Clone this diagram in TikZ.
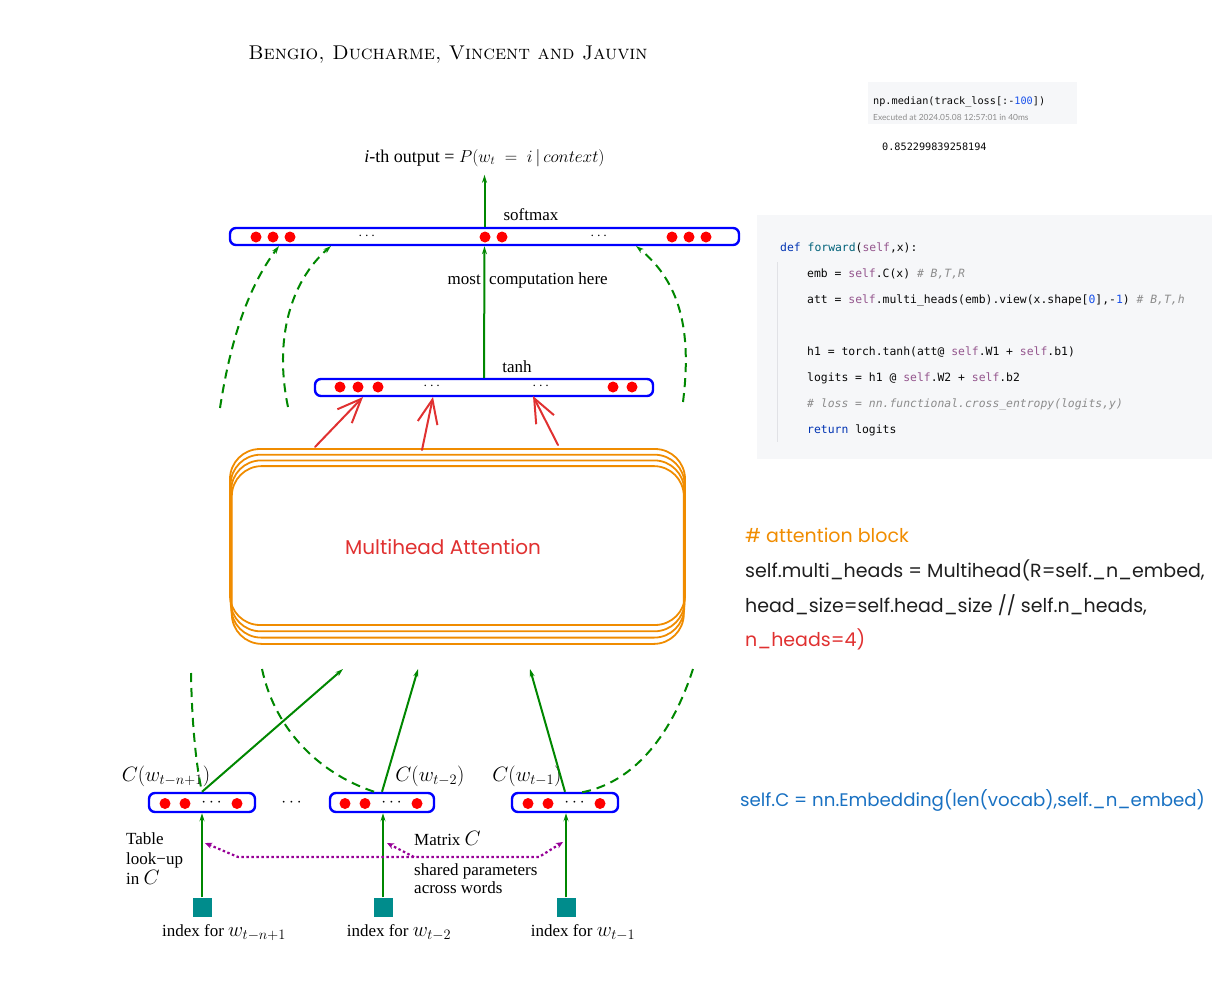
\documentclass[tikz,border=0pt]{standalone}
\usepackage{fontspec}
\usepackage{amsmath}
\usetikzlibrary{arrows.meta, positioning, calc}
\newfontfamily\timesfont{Liberation Serif}
\newfontfamily\codefont{DejaVu Sans Mono}
\newfontfamily\handfont{Poppins}
\newfontfamily\uifont{Lato}
\newcommand{\wlab}[1]{{\fontsize{19.5}{21}\selectfont$#1$}}
\definecolor{GreenLine}{RGB}{0,135,0}
\definecolor{ShareViolet}{RGB}{150,0,150}
\definecolor{IdxTeal}{RGB}{0,140,140}
\definecolor{ExOrange}{RGB}{240,140,0}
\definecolor{ExRed}{RGB}{224,49,49}
\definecolor{ExBlue}{RGB}{25,113,194}
\definecolor{ExInk}{RGB}{30,30,30}
\definecolor{CellGray}{RGB}{246,247,249}
\definecolor{CodeRule}{RGB}{225,226,230}
\definecolor{CodeInk}{RGB}{8,8,8}
\definecolor{KwBlue}{RGB}{0,51,179}
\definecolor{FnTeal}{RGB}{0,98,122}
\definecolor{SelfPurple}{RGB}{148,85,141}
\definecolor{NumBlue}{RGB}{23,80,235}
\definecolor{CmtGray}{RGB}{140,140,140}
\tikzset{
  layer/.style={draw=blue, line width=2.4pt, rounded corners=6pt, inner sep=0pt},
  lbl/.style={font=\timesfont\fontsize{17}{20}\selectfont, inner sep=0pt},
  mlbl/.style={font=\fontsize{20}{22}\selectfont, inner sep=0pt},
  idx/.style={fill=IdxTeal, minimum size=19pt, inner sep=0pt},
  feed/.style={draw=GreenLine, line width=2pt, -{Stealth[length=8pt,width=5pt]}},
  skip/.style={draw=GreenLine, line width=2pt, dash pattern=on 9pt off 6pt},
  share/.style={draw=ShareViolet, line width=2.2pt, dash pattern=on 2.5pt off 2.5pt},
  sketch/.style={draw=ExRed, line width=2pt, line cap=round, -{Straight Barb[length=24pt,width=20pt]}},
  stack/.style={draw=ExOrange, line width=1.8pt, rounded corners=30pt},
  hand/.style={font=\handfont\fontsize{19}{22}\selectfont, inner sep=0pt, anchor=base west},
  code/.style={font=\codefont\fontsize{11.4}{14}\selectfont, inner sep=0pt, anchor=base west, text=CodeInk}
}

\begin{document}
\begin{tikzpicture}[x=1pt,y=-1pt]
\useasboundingbox (0,0) rectangle (1221,983);

% page header
\node[font=\fontsize{19.9}{23}\selectfont, inner sep=0pt] (hdr) at (448,55) {\textsc{Bengio, Ducharme, Vincent and Jauvin}};

% notebook cell with result
\fill[CellGray] (868,82) rectangle (1077,124);
\node[code, font=\codefont\fontsize{10.2}{12}\selectfont] (med) at (873,104) {np.median(track\_loss[:-\textcolor{NumBlue}{100}])};
\node[inner sep=0pt, anchor=base west, font=\uifont\fontsize{8.4}{10}\selectfont, text=CmtGray] (exe) at (873,120) {Executed at 2024.05.08 12:57:01 in 40ms};
\node[code, font=\codefont\fontsize{10.2}{12}\selectfont] (res) at (882,150) {0.852299839258194};

% forward code
\fill[CellGray] (757,215) rectangle (1212,459);
\draw[CodeRule, line width=1pt] (777,262) -- (777,442);
\node[code] (c0) at (780,251) {\textcolor{KwBlue}{def} \textcolor{FnTeal}{forward}(\textcolor{SelfPurple}{self},x):};
\node[code] (c1) at (807,277) {emb = \textcolor{SelfPurple}{self}.C(x) {\color{CmtGray}\itshape\# B,T,R}};
\node[code] (c2) at (807,303) {att = \textcolor{SelfPurple}{self}.multi\_heads(emb).view(x.shape[\textcolor{NumBlue}{0}],-\textcolor{NumBlue}{1}) {\color{CmtGray}\itshape\# B,T,h}};
\node[code] (c3) at (807,355) {h1 = torch.tanh(att@ \textcolor{SelfPurple}{self}.W1 + \textcolor{SelfPurple}{self}.b1)};
\node[code] (c4) at (807,381) {logits = h1 @ \textcolor{SelfPurple}{self}.W2 + \textcolor{SelfPurple}{self}.b2};
\node[code] (c5) at (807,407) {{\color{CmtGray}\itshape\# loss = nn.functional.cross\_entropy(logits,y)}};
\node[code] (c6) at (807,433) {\textcolor{KwBlue}{return} logits};

% output and hidden layers
\node[layer, minimum width=509pt, minimum height=17pt] (soft) at (484.5,236.5) {};
\node[layer, minimum width=338pt, minimum height=17pt] (hid) at (484,387.5) {};
\foreach \x in {256,273,290,485,502,672,689,706} \fill[red] (\x,237) circle (5.5pt);
\foreach \x in {340,358,378,613,632} \fill[red] (\x,387) circle (5.5pt);
\foreach \x/\y [count=\i] in {368/236,600/236,433/386,542/386} \node[mlbl, font=\fontsize{14}{16}\selectfont] (dots\i) at (\x,\y) {$\cdots$};
\node[mlbl, font=\fontsize{18}{21}\selectfont] (out) at (484.5,158) {\timesfont\itshape i\upshape-th output = $P(w_t\;=\;i\,|\,context)$};
\node[lbl] (smx) at (531,215) {softmax};
\node[lbl] (tnh) at (517,367) {tanh};
\node[lbl, anchor=east] (most) at (481,280) {most};
\node[lbl, anchor=west] (comp) at (489,280) {computation here};
\draw[feed, shorten >=8pt] (soft) -- (out);
\draw[feed] (hid) -- (soft);

% skip connections cut off above
\coordinate (u1) at (220,408);
\coordinate (u2) at (288,407);
\coordinate (u3) at (683,402);
\draw[skip, -{Stealth[length=8pt,width=5pt]}] (u1) .. controls (232,330) and (252,282) .. (279,246);
\draw[skip, -{Stealth[length=8pt,width=5pt]}] (u2) .. controls (274,340) and (290,282) .. (331,246);
\draw[skip, -{Stealth[length=8pt,width=5pt]}] (u3) .. controls (692,330) and (680,282) .. (636,246);

% attention block
\foreach \i in {0,1,2,3} \draw[stack] (230+\i*0.6,449+\i*5.7) rectangle (685-\i*0.4,625+\i*6.3);
\node[font=\handfont\fontsize{20}{22}\selectfont, text=ExRed, inner sep=0pt] (att) at (443,547) {Multihead Attention};
\coordinate (r1) at (315,447);
\coordinate (r2) at (422,450);
\coordinate (r3) at (558,445);
\draw[sketch] (r1) -- (363,397);
\draw[sketch] (r2) -- (433,397);
\draw[sketch] (r3) -- (533,396);

% word embeddings
\node[layer, minimum width=106pt, minimum height=19pt] (e1) at (202,802.5) {};
\node[layer, minimum width=104pt, minimum height=19pt] (e2) at (382,802.5) {};
\node[layer, minimum width=106pt, minimum height=19pt] (e3) at (565,802.5) {};
\foreach \b in {e1,e2,e3} {
  \foreach \dx in {-37,-17,35} \fill[red] ($(\b.center)+(\dx,1)$) circle (5.5pt);
  \node[mlbl, font=\fontsize{17}{20}\selectfont] at ($(\b.center)+(11,0)$) {$\cdots$};
}
\node[mlbl, font=\fontsize{17}{20}\selectfont] (gap) at (293,803) {$\cdots$};
\node[mlbl] (l1) at (166,776) {$C(w_{t-n+1})$};
\node[mlbl] (l2) at (430,776) {$C(w_{t-2})$};
\node[mlbl] (l3) at (527,776) {$C(w_{t-1})$};
\coordinate (a1) at (343,669);
\coordinate (a2) at (418,669);
\coordinate (a3) at (530,669);
\draw[feed] (e1.north) -- (a1);
\draw[feed] (e2.north) -- (a2);
\draw[feed] (e3.north) -- (a3);
\coordinate (d1) at (191,673);
\coordinate (d2) at (262,669);
\coordinate (d3) at (693,669);
\draw[skip] (d1) .. controls (192,730) and (197,770) .. (e1.north);
\draw[skip] (d2) .. controls (275,730) and (320,775) .. (378,793);
\draw[skip] (d3) .. controls (670,740) and (630,785) .. (578,793);

% indices and table look-up
\node[idx] (s1) at (202,907) {};
\node[idx] (s2) at (383,907) {};
\node[idx] (s3) at (566,907) {};
\draw[feed] (s1) -- (e1.south -| s1);
\draw[feed] (s2) -- (e2.south -| s2);
\draw[feed] (s3) -- (e3.south -| s3);
\node[lbl] (i1) at (224,933) {index for \wlab{w_{t-n+1}}};
\node[lbl] (i2) at (399,933) {index for \wlab{w_{t-2}}};
\node[lbl] (i3) at (583,933) {index for \wlab{w_{t-1}}};
\node[lbl, align=left, anchor=north west, font=\timesfont\fontsize{17}{20}\selectfont] (tbl) at (126,832) {Table\\ look−up\\ in \wlab{C}};
\node[lbl, anchor=base west] (mat) at (414,845) {Matrix \wlab{C}};
\node[lbl, anchor=north west, align=left, font=\timesfont\fontsize{17}{18}\selectfont] (shr) at (414,863) {shared parameters\\across words};
\coordinate (m1) at (238,857);
\coordinate (m2) at (414,857);
\coordinate (m3) at (539,857);
\draw[share, {Stealth[length=7pt,width=6pt]}-{Stealth[length=7pt,width=6pt]}] (205,843) -- (m1) -- (m3) -- (563,842);
\draw[share, -{Stealth[length=7pt,width=6pt]}] (m2) -- (387,843);

% annotations
\node[hand, text=ExOrange] (hc) at (745,542) {\# attention block};
\node[hand, text=ExInk] (h1) at (745,577) {self.multi\_heads = Multihead(R=self.\_n\_embed,};
\node[hand, text=ExInk] (h2) at (745,612) {head\_size=self.head\_size // self.n\_heads,};
\node[hand, text=ExRed] (h3) at (745,646) {n\_heads=4)};
\node[hand, text=ExBlue, font=\handfont\fontsize{18.2}{21}\selectfont] (emb) at (740,806) {self.C = nn.Embedding(len(vocab),self.\_n\_embed)};
\end{tikzpicture}
\end{document}
